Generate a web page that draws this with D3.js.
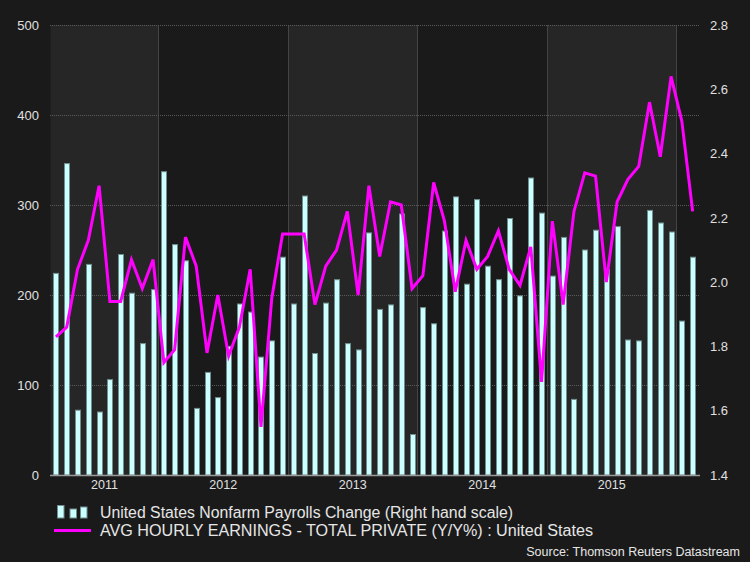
<!DOCTYPE html>
<html><head><meta charset="utf-8">
<script src="https://cdn.jsdelivr.net/npm/d3@7"></script>
<style>
html,body{margin:0;padding:0;background:#1a1a1a;}
svg{display:block;font-family:"Liberation Sans",Arial,sans-serif;}
</style></head>
<body>
<svg id="chart" width="750" height="562"></svg>
<script>
// Monthly categories Mar 2011 .. Feb 2016
const months = [];
for (let i = 0; i < 60; i++) { const d = new Date(2011, 2 + i, 1); months.push(d.getFullYear() + "-" + String(d.getMonth() + 1).padStart(2, "0")); }

const payrolls = [224,346,72,234,70,106,245,202,146,206,
  337,256,238,74,114,86,143,190,181,131,149,242,
  190,310,135,191,217,146,139,269,184,189,290,45,
  186,168,271,309,212,306,232,217,285,199,330,291,
  221,264,84,250,272,228,276,150,149,294,280,270,
  171,242];

const earnings = [1.83,1.86,2.04,2.13,2.30,1.94,1.94,2.07,1.98,2.07,
  1.75,1.79,2.14,2.05,1.78,1.96,1.77,1.86,2.04,1.55,1.95,2.15,
  2.15,2.15,1.93,2.05,2.10,2.22,1.96,2.30,2.08,2.25,2.24,1.98,
  2.02,2.31,2.19,1.97,2.13,2.04,2.08,2.16,2.04,1.99,2.11,1.69,
  2.19,1.93,2.22,2.34,2.33,2.00,2.25,2.32,2.36,2.56,2.39,2.64,
  2.50,2.22];

const years = ["2011","2012","2013","2014","2015","2016"];
const leftTicks = [0,100,200,300,400,500];
const rightTicks = [1.4,1.6,1.8,2.0,2.2,2.4,2.6,2.8];
const legendLabels = ["United States Nonfarm Payrolls Change (Right hand scale)",
  "AVG HOURLY EARNINGS - TOTAL PRIVATE (Y/Y%) : United States"];
const sourceText = "Source: Thomson Reuters Datastream";

const svg = d3.select("#chart");
const L = 50, R = 700, T = 25, B = 475;

svg.append("rect").attr("width",750).attr("height",562).attr("fill","#1a1a1a");

const x = d3.scaleLinear().domain([-0.55, 59.68]).range([L, R]);
const yL = d3.scaleLinear().domain([0, 500]).range([B, T]);
const yR = d3.scaleLinear().domain([1.4, 2.8]).range([B, T]);

// year bands
const yearInfo = years.map(y => {
  const first = months.findIndex(m => m.startsWith(y));
  const last = months.length - 1 - [...months].reverse().findIndex(m => m.startsWith(y));
  return {year: y, x0: Math.max(L, x(first - 0.5)), x1: Math.min(R, x(last + 0.5))};
});
svg.selectAll("rect.band").data(yearInfo.filter((d,i) => i % 2 === 0)).enter()
  .append("rect").attr("class","band")
  .attr("x", d => d.x0).attr("y", T).attr("width", d => d.x1 - d.x0).attr("height", B - T)
  .attr("fill", "#262626");

// year boundary lines
svg.selectAll("line.yb").data(yearInfo.slice(1)).enter()
  .append("line").attr("class","yb")
  .attr("x1", d => Math.round(d.x0) + 0.5).attr("x2", d => Math.round(d.x0) + 0.5)
  .attr("y1", T).attr("y2", B).attr("stroke", "#444").attr("stroke-width", 1);

// horizontal gridlines
svg.append("g").attr("transform", `translate(${L},0)`)
  .call(d3.axisLeft(yL).tickValues(leftTicks.filter(v => v > 0)).tickSize(-(R - L)).tickFormat(""))
  .call(g => g.select(".domain").remove())
  .call(g => g.selectAll("line").attr("stroke", "#5a5a5a").attr("stroke-dasharray", "1,1"));

// bars
const bw = 5;
svg.append("g").selectAll("rect").data(payrolls).enter().append("rect")
  .attr("x", (d,i) => Math.round(x(i) - bw/2) + 0.5)
  .attr("y", d => yL(d))
  .attr("width", bw).attr("height", d => B - yL(d))
  .attr("fill", "#ccffff").attr("stroke", "#6f8f8f").attr("stroke-width", 1);

// line
svg.append("path").datum(earnings)
  .attr("d", d3.line().x((d,i) => x(i)).y(d => yR(d)))
  .attr("fill","none").attr("stroke","#ff00ff").attr("stroke-width",3).attr("stroke-linejoin","miter");

// bottom axis line
svg.append("line").attr("x1", L).attr("x2", R).attr("y1", B + 0.5).attr("y2", B + 0.5)
  .attr("stroke", "#9a9a9a").attr("stroke-width", 1.5);

// left axis labels
const gl = svg.append("g").attr("transform", `translate(${L},0)`)
  .call(d3.axisLeft(yL).tickValues(leftTicks).tickSize(0).tickPadding(11).tickFormat(d3.format("d")));
gl.select(".domain").remove();
gl.selectAll("text").attr("fill","#e0e0e0").style("font-size","13px").style("font-family","'Liberation Sans',Arial,sans-serif");

// right axis labels
const gr = svg.append("g").attr("transform", `translate(${R},0)`)
  .call(d3.axisRight(yR).tickValues(rightTicks).tickSize(0).tickPadding(10).tickFormat(d3.format(".1f")));
gr.select(".domain").remove();
gr.selectAll("text").attr("fill","#e0e0e0").style("font-size","13px").style("font-family","'Liberation Sans',Arial,sans-serif");

// year labels
svg.selectAll("text.yl").data(yearInfo.filter(d => d.x1 - d.x0 > 40)).enter()
  .append("text").attr("class","yl")
  .attr("x", d => (d.x0 + d.x1) / 2).attr("y", 489)
  .attr("text-anchor","middle").attr("fill","#e0e0e0").style("font-size","12.5px")
  .text(d => d.year);

// legend
const lg = svg.append("g");
[[57.5,12.5],[70,9],[80.5,11]].forEach(([bx,h]) => {
  lg.append("rect").attr("x", bx).attr("y", 518 - h).attr("width", 6.5).attr("height", h)
    .attr("fill","#ccffff").attr("stroke","#6f8f8f").attr("stroke-width",1);
});
lg.append("line").attr("x1",54).attr("x2",91).attr("y1",530.5).attr("y2",530.5)
  .attr("stroke","#ff00ff").attr("stroke-width",3);
const legendWidths = [413, 493];
lg.selectAll("text").data(legendLabels).enter().append("text")
  .attr("x", 100).attr("y", (d,i) => 518 + i * 18)
  .attr("textLength", (d,i) => legendWidths[i]).attr("lengthAdjust","spacingAndGlyphs")
  .attr("fill","#e6e6e6").style("font-size","15.8px").text(d => d);

svg.append("text").attr("x", 740).attr("y", 556).attr("text-anchor","end")
  .attr("fill","#e6e6e6").style("font-size","12.5px").text(sourceText);
</script>
</body></html>
